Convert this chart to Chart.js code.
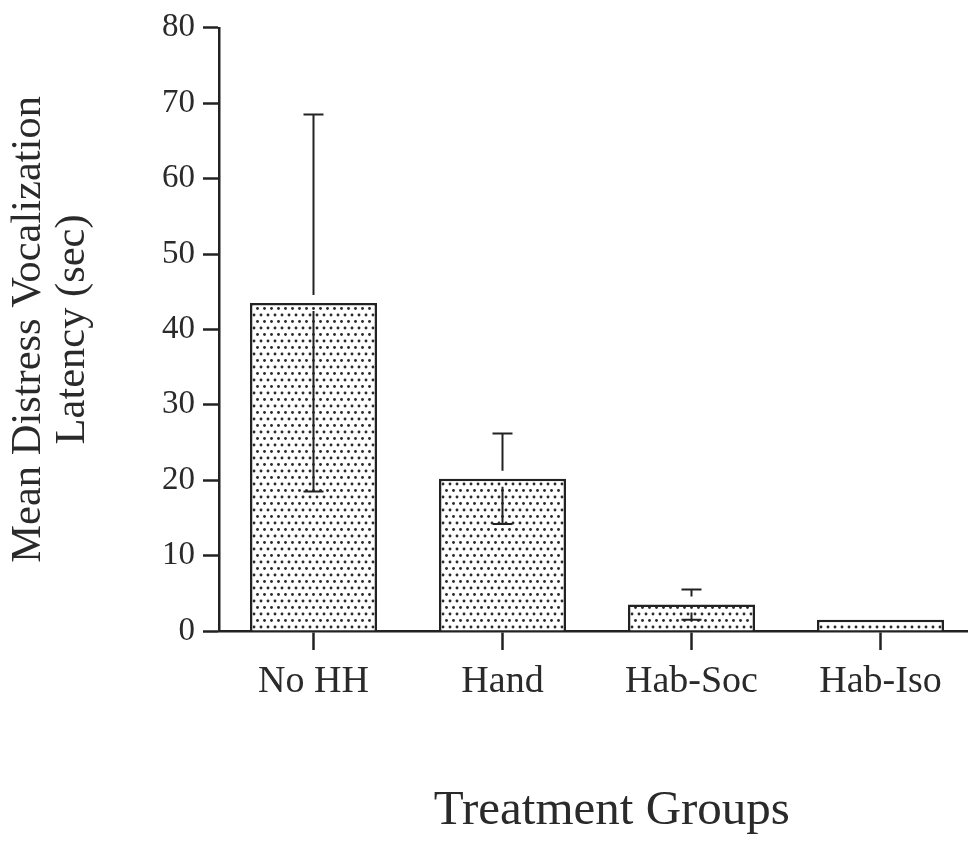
<!DOCTYPE html>
<html>
<head>
<meta charset="utf-8">
<script src="https://cdn.jsdelivr.net/npm/chart.js@4/dist/chart.umd.min.js"></script>
<style>
  html, body { margin: 0; padding: 0; background: #fff; }
  canvas { display: block; }
</style>
</head>
<body>
<canvas id="chart" width="968" height="845"></canvas>
<script>
// Treatment groups and their mean latencies with standard errors
const groups = ['No HH', 'Hand', 'Hab-Soc', 'Hab-Iso'];
const meanLatency = [43.5, 20.2, 3.5, 1.5];
const stdError = [25, 6, 2, 0];
const yTicks = [0, 10, 20, 30, 40, 50, 60, 70, 80];

const ink = '#222';
const serif = "'Liberation Serif', 'Times New Roman', serif";

// Stippled fill for the bars: staggered rows of small dots
function makeStipple() {
  const tile = document.createElement('canvas');
  tile.width = 7; tile.height = 13;
  const t = tile.getContext('2d');
  t.fillStyle = '#fff';
  t.fillRect(0, 0, 7, 13);
  t.fillStyle = '#2a2a2a';
  [[2, 3], [5.5, 9.5]].forEach(([x, y]) => {
    t.beginPath(); t.arc(x, y, 1.45, 0, Math.PI * 2); t.fill();
  });
  return document.getElementById('chart').getContext('2d').createPattern(tile, 'repeat');
}

// Error bars: vertical whiskers with caps, broken where they cross the bar top
const errorBars = {
  id: 'errorBars',
  afterDatasetsDraw(chart) {
    const { ctx, scales: { y } } = chart;
    const meta = chart.getDatasetMeta(0);
    ctx.save();
    ctx.strokeStyle = ink;
    ctx.lineWidth = 2;
    meta.data.forEach((bar, i) => {
      const se = stdError[i];
      if (!se) return;
      const x = bar.x;
      const top = y.getPixelForValue(meanLatency[i] + se);
      const low = y.getPixelForValue(meanLatency[i] - se);
      const gap = 8;
      const cap = 10;
      ctx.beginPath();
      ctx.moveTo(x, top); ctx.lineTo(x, bar.y - gap);
      ctx.moveTo(x - cap, top); ctx.lineTo(x + cap, top);
      if (low > bar.y + gap) {
        ctx.moveTo(x, bar.y + gap); ctx.lineTo(x, low);
      }
      ctx.moveTo(x - cap, low); ctx.lineTo(x + cap, low);
      ctx.stroke();
    });
    ctx.restore();
  }
};

new Chart(document.getElementById('chart'), {
  type: 'bar',
  data: {
    datasets: [{
      data: meanLatency.map((v, i) => ({ x: i, y: v })),
      backgroundColor: makeStipple(),
      borderColor: ink,
      borderWidth: 2.5,
      borderSkipped: 'start',
      barPercentage: 1,
      categoryPercentage: 0.672
    }]
  },
  options: {
    responsive: false,
    animation: false,
    layout: { padding: { top: 23, right: 0, bottom: 0, left: 0 } },
    plugins: { legend: { display: false }, tooltip: { enabled: false } },
    scales: {
      x: {
        type: 'linear',
        offset: false,
        min: -0.5,
        max: 3.463,
        afterBuildTicks: (s) => { s.ticks = groups.map((_, i) => ({ value: i })); },
        afterFit: (s) => { s.height = 214; },
        ticks: {
          callback: (v) => groups[v],
          color: '#2a2a2a',
          padding: 9,
          maxRotation: 0,
          autoSkip: false,
          font: { family: serif, size: 38 }
        },
        grid: { offset: false, drawOnChartArea: false, drawTicks: true, tickLength: 19, tickColor: ink, tickWidth: 2.5 },
        border: { display: true, color: ink, width: 2.5 },
        title: {
          display: true,
          text: '   Treatment Groups',
          color: '#2a2a2a',
          font: { family: serif, size: 49 },
          padding: { top: 0, bottom: 4 }
        }
      },
      y: {
        min: 0,
        max: 80,
        afterBuildTicks: (s) => { s.ticks = yTicks.map(v => ({ value: v })); },
        afterFit: (s) => { s.width = 219; },
        ticks: {
          color: '#2a2a2a',
          padding: 8,
          font: { family: serif, size: 33 }
        },
        grid: { drawOnChartArea: false, drawTicks: true, tickLength: 16, tickColor: ink, tickWidth: 2.5 },
        border: { display: true, color: ink, width: 2.5 },
        title: {
          display: true,
          text: ['Mean Distress Vocalization', 'Latency (sec)'],
          color: '#2a2a2a',
          font: { family: serif, size: 42.5, lineHeight: 1.04 },
          padding: { top: 7, bottom: 0 }
        }
      }
    }
  },
  plugins: [errorBars]
});
</script>
</body>
</html>
